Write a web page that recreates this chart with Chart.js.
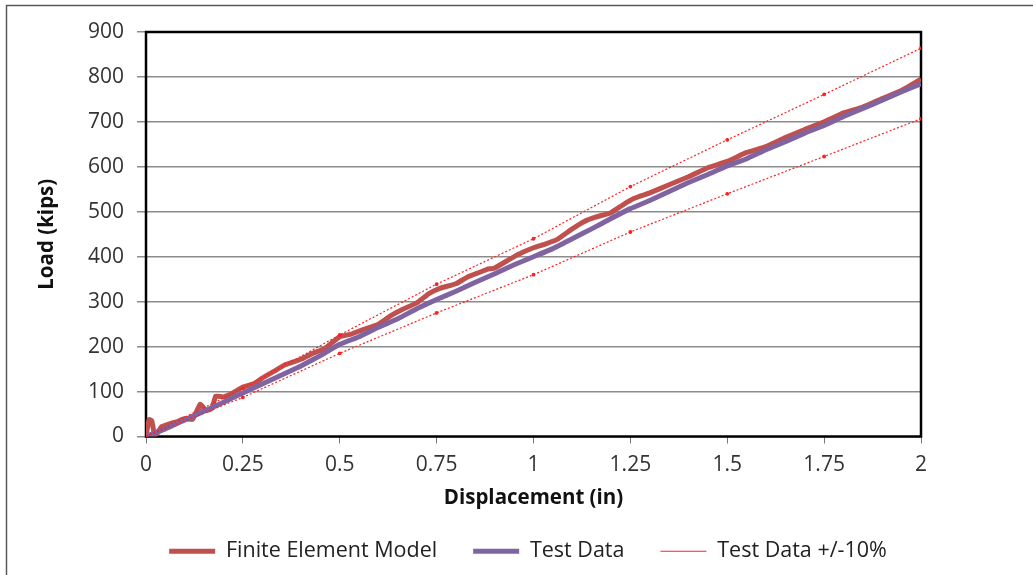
<html>
<head>
	<title>Load vs Displacement</title>
	<meta charset="utf-8">
	<script src="https://cdn.jsdelivr.net/npm/chart.js"></script>
	<style>
		html, body { margin: 0; padding: 0; background: #fff; }
		#wrap { width: 1033px; height: 575px; position: relative; }
	</style>
</head>
<body>
<div id="wrap"><canvas id="myChart" width="1033" height="575"></canvas></div>

<script type="text/javascript">
// test data, sampled every 0.05 in
var testX = [0, 0.05, 0.1, 0.15, 0.2, 0.25, 0.3, 0.35, 0.4, 0.45, 0.5, 0.55, 0.6, 0.65, 0.7, 0.75, 0.8, 0.85, 0.9, 0.95,
             1.0, 1.05, 1.1, 1.15, 1.2, 1.25, 1.3, 1.35, 1.4, 1.45, 1.5, 1.55, 1.6, 1.65, 1.7, 1.75, 1.8, 1.85, 1.9, 1.95, 2.0];
var testY = [0, 17, 37, 56, 76, 97, 117, 137, 157, 180, 205, 222, 243, 262, 285, 305, 323, 343, 362, 382,
             400, 418, 440, 462, 485, 507, 525, 545, 565, 583, 602, 618, 638, 656, 675, 692, 712, 730, 748, 767, 785];

// finite element model
var femX = [0, 0.008, 0.015, 0.022, 0.03, 0.04, 0.06, 0.08, 0.1, 0.12, 0.14, 0.155, 0.17, 0.18, 0.2, 0.22, 0.25, 0.28, 0.3,
            0.33, 0.36, 0.4, 0.43, 0.46, 0.5, 0.53, 0.56, 0.6, 0.63, 0.66, 0.7, 0.73, 0.76, 0.8, 0.83, 0.86, 0.88, 0.9,
            0.93, 0.96, 1.0, 1.03, 1.06, 1.1, 1.13, 1.16, 1.2, 1.23, 1.26, 1.3, 1.35, 1.4, 1.45, 1.5, 1.55, 1.6, 1.65,
            1.7, 1.75, 1.8, 1.85, 1.9, 1.95, 2.0];
var femY = [0, 38, 35, 3, 8, 22, 28, 33, 40, 38, 72, 58, 62, 90, 88, 95, 110, 118, 130,
            145, 160, 172, 185, 195, 222, 228, 238, 250, 268, 282, 298, 318, 330, 340, 355, 365, 372, 375,
            390, 405, 420, 428, 438, 462, 478, 488, 498, 515, 530, 542, 560, 578, 598, 612, 632, 645, 665,
            683, 700, 720, 733, 752, 770, 795];

// +/- 10% band
var bandX = [0, 0.25, 0.5, 0.75, 1.0, 1.25, 1.5, 1.75, 2.0];
var upperY = [0, 107, 226, 339, 440, 556, 660, 761, 864];
var lowerY = [0, 87, 185, 275, 360, 455, 540, 623, 707];

var xTicks = [0, 0.25, 0.5, 0.75, 1, 1.25, 1.5, 1.75, 2];

function pts(xs, ys) {
	return xs.map(function(x, i) { return {x: x, y: ys[i]}; });
}

var FONT = "'Open Sans', 'Noto Sans', sans-serif";

// outer frame + plot box, and nudge the legend to where the original sits
var framePlugin = {
	id: 'frame',
	afterLayout: function(chart) {
		var lg = chart.legend;
		if (!lg) return;
		lg.left += 50; lg.right += 50;
		lg.top -= 6; lg.bottom -= 6;
	},
	beforeDraw: function(chart) {
		var c = chart.ctx;
		c.save();
		c.strokeStyle = '#5a5a5a';
		c.lineWidth = 1.5;
		c.beginPath();
		c.moveTo(6.5, 575);
		c.lineTo(6.5, 5.5);
		c.lineTo(1033, 5.5);
		c.stroke();
		c.restore();
	},
	beforeDatasetsDraw: function(chart) {
		var a = chart.chartArea, c = chart.ctx;
		c.save();
		c.strokeStyle = '#000';
		c.lineWidth = 2.5;
		c.strokeRect(a.left, a.top, a.right - a.left, a.bottom - a.top);
		c.restore();
	}
};

var ctx = document.getElementById('myChart').getContext('2d');
var myChart = new Chart(ctx, {
	type: 'scatter',
	data: {
		datasets: [
			{
				label: 'Finite Element Model',
				data: pts(femX, femY),
				showLine: true,
				borderColor: '#C0504D',
				backgroundColor: '#C0504D',
				borderWidth: 5,
				pointRadius: 0,
				tension: 0.1,
				order: 2
			},
			{
				label: 'Test Data',
				data: pts(testX, testY),
				showLine: true,
				borderColor: '#8064A2',
				backgroundColor: '#8064A2',
				borderWidth: 5,
				pointRadius: 0,
				tension: 0.1,
				order: 1
			},
			{
				label: 'Test Data +/-10%',
				data: pts(bandX, upperY),
				showLine: true,
				borderColor: '#FF2020',
				backgroundColor: '#FF2020',
				borderWidth: 1.2,
				borderDash: [2, 2],
				pointRadius: 1.3,
				order: 0
			},
			{
				label: 'lower',
				data: pts(bandX, lowerY),
				showLine: true,
				borderColor: '#FF2020',
				backgroundColor: '#FF2020',
				borderWidth: 1.2,
				borderDash: [2, 2],
				pointRadius: 1.3,
				order: 0
			}
		]
	},
	options: {
		responsive: false,
		animation: false,
		layout: { padding: { left: 35, right: 112, top: 32, bottom: -3 } },
		plugins: {
			tooltip: { enabled: false },
			legend: {
				position: 'bottom',
				labels: {
					usePointStyle: true,
					pointStyle: 'line',
					pointStyleWidth: 46,
					boxHeight: 18,
					padding: 36,
					color: '#222',
					font: { family: FONT, size: 21.5 },
					sort: function(a, b) { return a.datasetIndex - b.datasetIndex; },
					filter: function(item) { return item.text !== 'lower'; }
				}
			}
		},
		scales: {
			x: {
				type: 'linear',
				min: 0,
				max: 2,
				afterBuildTicks: function(scale) {
					scale.ticks = xTicks.map(function(v) { return {value: v}; });
				},
				afterFit: function(scale) { scale.height = 74; },
				grid: { drawOnChartArea: false, drawTicks: true, tickLength: 7, color: '#777' },
				border: { display: false },
				ticks: {
					padding: 9,
					color: '#333',
					font: { family: FONT, size: 21 },
					maxRotation: 0,
					callback: function(v) { return String(v); }
				},
				title: {
					display: true,
					text: 'Displacement (in)',
					color: '#111',
					padding: 0,
					font: { family: FONT, size: 20.5, weight: 'bold' }
				}
			},
			y: {
				min: 0,
				max: 900,
				afterFit: function(scale) { scale.width = 111; },
				ticks: {
					stepSize: 100,
					padding: 13,
					color: '#333',
					font: { family: FONT, size: 21 }
				},
				grid: { color: '#8c8c8c', lineWidth: 1.5, tickLength: 9 },
				border: { display: false },
				title: {
					display: true,
					text: 'Load (kips)',
					color: '#111',
					padding: 0,
					font: { family: FONT, size: 20.5, weight: 'bold' }
				}
			}
		}
	},
	plugins: [framePlugin]
});
</script>
</body>
</html>
